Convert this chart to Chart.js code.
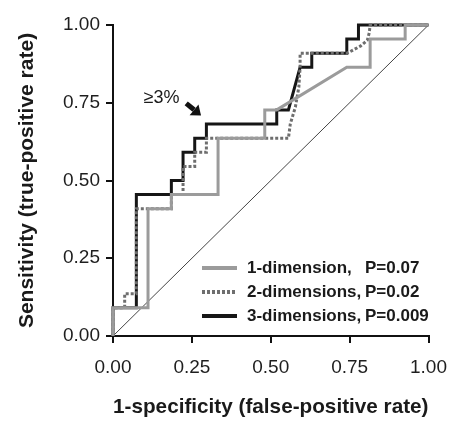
<!DOCTYPE html>
<html>
<head>
<meta charset="utf-8">
<script src="https://cdn.jsdelivr.net/npm/chart.js@4.4.1/dist/chart.umd.min.js"></script>
<style>
html,body{margin:0;padding:0;background:#fff}
#wrap{width:460px;height:424px}
</style>
</head>
<body>
<div id="wrap"><canvas id="c" width="460" height="424"></canvas></div>
<script>
// ---- data ----
const tickValues = [0, 0.25, 0.5, 0.75, 1];
const tickLabels = ['0.00', '0.25', '0.50', '0.75', '1.00'];
const seriesNames = ['1-dimension,', '2-dimensions,', '3-dimensions,'];
const pValues = ['P=0.07', 'P=0.02', 'P=0.009'];

const oneDimFpr = [0, 0, 0.111, 0.111, 0.185, 0.185, 0.333, 0.333, 0.481, 0.481, 0.519, 0.741, 0.815, 0.815, 0.926, 0.926, 1];
const oneDimTpr = [0, 0.091, 0.091, 0.409, 0.409, 0.455, 0.455, 0.636, 0.636, 0.727, 0.727, 0.864, 0.864, 0.955, 0.955, 1, 1];

const twoDimFpr = [0, 0, 0.037, 0.037, 0.074, 0.074, 0.185, 0.185, 0.222, 0.222, 0.259, 0.259, 0.296, 0.296, 0.556, 0.562, 0.578, 0.589, 0.593, 0.593, 0.741, 0.749, 0.784, 0.806, 0.812, 0.815, 1];
const twoDimTpr = [0, 0.091, 0.091, 0.136, 0.136, 0.409, 0.409, 0.455, 0.455, 0.545, 0.545, 0.591, 0.591, 0.636, 0.636, 0.682, 0.736, 0.8, 0.864, 0.909, 0.909, 0.913, 0.932, 0.951, 0.974, 1, 1];

const threeDimFpr = [0, 0, 0.074, 0.074, 0.185, 0.185, 0.222, 0.222, 0.259, 0.259, 0.296, 0.296, 0.519, 0.519, 0.556, 0.593, 0.630, 0.630, 0.741, 0.741, 0.778, 0.778, 1];
const threeDimTpr = [0, 0.091, 0.091, 0.455, 0.455, 0.5, 0.5, 0.591, 0.591, 0.636, 0.636, 0.682, 0.682, 0.727, 0.727, 0.864, 0.864, 0.909, 0.909, 0.955, 0.955, 1, 1];

const refFpr = [0, 1];
const refTpr = [0, 1];

const annotationText = '≥3%';

// ---- helpers ----
const FONT = "'Liberation Sans', Arial, Helvetica, sans-serif";
const pts = (xs, ys) => xs.map((x, i) => ({x: x, y: ys[i]}));

const annot = {tx: 0.154, ty: 0.764, ax0: 0.232, ay0: 0.748, ax1: 0.279, ay1: 0.709};

const rocLegend = {
  id: 'rocLegend',
  afterDatasetsDraw(chart) {
    const {ctx, chartArea: a, scales} = chart;
    ctx.save();
    // legend
    const x0 = a.left + 89, x1 = a.left + 124, tx = a.left + 134, px = a.left + 252;
    for (let i = 0; i < 3; i++) {
      const ds = chart.data.datasets[i];
      const y = a.bottom - 68 + i * 24;
      ctx.strokeStyle = ds.borderColor;
      ctx.lineWidth = 4;
      ctx.lineCap = 'butt';
      ctx.setLineDash(ds.borderDash || []);
      ctx.beginPath(); ctx.moveTo(x0, y); ctx.lineTo(x1, y); ctx.stroke();
      ctx.setLineDash([]);
      ctx.fillStyle = '#1a1a1a';
      ctx.font = 'bold 17px ' + FONT;
      ctx.textBaseline = 'middle';
      ctx.textAlign = 'left';
      ctx.fillText(seriesNames[i], tx, y);
      ctx.fillText(pValues[i], px, y);
    }
    // annotation text
    const xs = scales.x, ys = scales.y;
    ctx.font = '18px ' + FONT;
    ctx.textAlign = 'center';
    ctx.fillStyle = '#1a1a1a';
    ctx.fillText(annotationText, xs.getPixelForValue(annot.tx), ys.getPixelForValue(annot.ty));
    // arrow
    const sx = xs.getPixelForValue(annot.ax0), sy = ys.getPixelForValue(annot.ay0);
    const ex = xs.getPixelForValue(annot.ax1), ey = ys.getPixelForValue(annot.ay1);
    const ang = Math.atan2(ey - sy, ex - sx);
    const headLen = 9, headW = 7;
    const bx = ex - headLen * Math.cos(ang), by = ey - headLen * Math.sin(ang);
    ctx.strokeStyle = '#111';
    ctx.lineWidth = 5;
    ctx.beginPath(); ctx.moveTo(sx, sy); ctx.lineTo(bx, by); ctx.stroke();
    ctx.fillStyle = '#111';
    ctx.beginPath();
    ctx.moveTo(ex, ey);
    ctx.lineTo(bx + headW * Math.sin(ang), by - headW * Math.cos(ang));
    ctx.lineTo(bx - headW * Math.sin(ang), by + headW * Math.cos(ang));
    ctx.closePath(); ctx.fill();
    ctx.restore();
  }
};

const axisCommon = {
  type: 'linear',
  min: 0,
  max: 1,
  afterBuildTicks: s => { s.ticks = tickValues.map(v => ({value: v})); },
  grid: {drawOnChartArea: false, drawTicks: true, tickLength: 7, color: '#111', lineWidth: 2},
  border: {display: true, color: '#111', width: 2},
};

new Chart(document.getElementById('c'), {
  type: 'scatter',
  data: {
    datasets: [
      {label: seriesNames[0], data: pts(oneDimFpr, oneDimTpr), showLine: true, borderColor: '#9b9b9b', borderWidth: 3, pointRadius: 0, tension: 0, clip: 5, borderJoinStyle: 'miter'},
      {label: seriesNames[1], data: pts(twoDimFpr, twoDimTpr), showLine: true, borderColor: '#6e6e6e', borderWidth: 3, borderDash: [3, 2], pointRadius: 0, tension: 0, clip: 5, borderJoinStyle: 'miter'},
      {label: seriesNames[2], data: pts(threeDimFpr, threeDimTpr), showLine: true, borderColor: '#161616', borderWidth: 3, pointRadius: 0, tension: 0, clip: 5, borderJoinStyle: 'miter'},
      {label: 'ref', data: pts(refFpr, refTpr), showLine: true, borderColor: '#444', borderWidth: 1, pointRadius: 0, clip: 5}
    ]
  },
  options: {
    responsive: false,
    devicePixelRatio: 1,
    animation: false,
    layout: {autoPadding: false, padding: {left: 0, top: 25, right: 28, bottom: 0}},
    plugins: {legend: {display: false}, tooltip: {enabled: false}},
    scales: {
      x: Object.assign({}, axisCommon, {
        position: 'bottom',
        afterFit: s => { s.height = 88; },
        ticks: {padding: 13, color: '#1e1e1e', font: {family: FONT, size: 19}, callback: (v, i) => tickLabels[i]},
        title: {display: true, text: '1-specificity (false-positive rate)', color: '#1a1a1a', font: {family: FONT, size: 21, weight: 'bold'}, padding: {top: 0, bottom: 4}}
      }),
      y: Object.assign({}, axisCommon, {
        position: 'left',
        afterFit: s => { s.width = 113; },
        ticks: {padding: 6, color: '#1e1e1e', font: {family: FONT, size: 19}, callback: (v, i) => tickLabels[i]},
        title: {display: true, text: 'Sensitivity (true-positive rate)', color: '#1a1a1a', font: {family: FONT, size: 21, weight: 'bold'}, padding: {top: 15, bottom: 0}}
      })
    }
  },
  plugins: [rocLegend]
});
</script>
</body>
</html>
